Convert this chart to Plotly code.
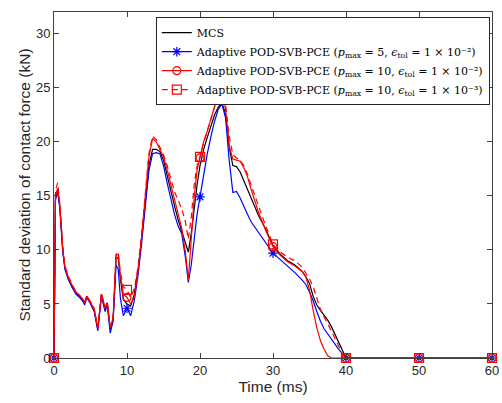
import plotly.graph_objects as go

# time grid (ms)
time_ms = [0, 0.2, 0.5, 0.8, 1.0, 1.2, 1.5, 2.0, 2.5, 3.0, 3.5, 4.0, 4.2, 4.5, 5.0,
           5.5, 6.0, 6.5, 7.0, 7.3, 7.7, 8.1, 8.5, 8.8, 9.1, 9.5, 10.0, 10.5, 11.0,
           11.5, 12.0, 12.5, 13.0, 13.5, 14.0, 14.5, 15.0, 15.5, 16.0, 16.5, 17.0,
           17.5, 18.0, 18.4, 18.8, 19.2, 19.6, 20.0, 20.5, 21.0, 21.5, 22.0, 22.5,
           23.0, 23.5, 24.0, 24.5, 25.0, 25.5, 26.0, 26.5, 27.0, 28.0, 29.0, 30.0,
           31.0, 32.0, 33.0, 34.0, 34.5, 35.0, 35.5, 36.0, 36.5, 37.0, 37.5, 38.0,
           38.5, 39.0, 39.5, 40.0, 50.0, 60.0]

mcs = [0, 14.8, 15.6, 14.0, 12.0, 10.0, 8.3, 7.3, 6.6, 6.0, 5.7, 5.3, 5.1, 5.7, 5.1,
       4.5, 2.7, 5.9, 4.5, 5.1, 2.7, 3.6, 9.2, 9.3, 7.3, 5.4, 5.0, 4.8, 5.9,
       8.1, 11.0, 14.5, 17.8, 19.3, 19.3, 19.1, 18.3, 16.9, 15.4, 14.1, 12.8,
       11.8, 10.6, 9.8, 11.5, 14.0, 16.0, 17.8, 19.3, 20.4, 21.5, 22.5, 23.2,
       23.6, 22.6, 19.5, 17.8, 17.7, 17.2, 16.4, 15.5, 14.7, 13.2, 11.9, 10.4,
       9.6, 9.0, 8.6, 8.0, 7.5, 6.9, 5.7, 4.9, 4.4, 4.0, 3.5, 2.9,
       2.2, 1.5, 0.7, 0, 0, 0]

pce_p5_e2 = [0, 14.6, 15.4, 13.8, 11.8, 9.8, 8.2, 7.2, 6.5, 5.9, 5.6, 5.2, 4.9, 5.6, 5.0,
             4.3, 2.5, 5.7, 4.3, 4.9, 2.3, 3.4, 8.6, 8.2, 5.5, 3.9, 4.6, 3.9, 5.3,
             7.6, 10.6, 14.0, 17.3, 18.9, 19.0, 18.9, 17.8, 16.2, 14.6, 13.3, 12.2,
             11.5, 9.3, 7.0, 8.6, 11.2, 13.3, 14.9, 17.0, 18.9, 20.5, 21.9, 23.0,
             23.5, 22.2, 18.3, 15.3, 15.4, 14.8, 14.0, 13.3, 12.6, 11.6, 10.6, 9.7,
             9.1, 8.5, 7.9, 7.2, 6.8, 6.1, 5.3, 4.3, 3.4, 2.7, 2.2, 1.7,
             1.2, 0.8, 0.4, 0, 0, 0]

pce_p10_e2 = [0, 14.9, 15.7, 14.1, 12.1, 10.1, 8.4, 7.4, 6.7, 6.1, 5.8, 5.4, 5.1, 5.7, 5.1,
              4.5, 2.7, 5.9, 4.6, 5.0, 2.8, 3.7, 9.5, 9.6, 7.5, 5.9, 5.6, 5.0, 5.6,
              8.0, 11.2, 15.0, 18.6, 20.3, 20.0, 19.3, 18.6, 17.4, 16.0, 14.8, 13.4,
              12.0, 9.8, 7.2, 11.0, 14.8, 17.4, 18.5, 20.0, 21.0, 22.2, 23.3, 24.4,
              25.0, 23.0, 19.6, 18.4, 18.3, 18.2, 17.6, 16.8, 15.6, 13.5, 11.8, 10.3,
              9.5, 8.9, 8.5, 8.0, 7.5, 6.3, 4.4, 2.8, 1.6, 0.8, 0.2, 0,
              0, 0, 0, 0, 0, 0]

pce_p10_e3 = [0, 15.5, 16.2, 14.3, 12.3, 10.3, 8.5, 7.5, 6.8, 6.1, 5.8, 5.4, 5.2, 5.8, 5.2,
              4.6, 2.8, 6.0, 4.7, 5.2, 2.9, 3.9, 9.6, 9.8, 7.9, 6.6, 6.3, 5.6, 6.4,
              8.4, 11.4, 15.2, 18.9, 20.5, 20.2, 19.5, 18.8, 17.8, 16.6, 15.4, 14.6,
              13.8, 12.6, 11.0, 13.0, 16.0, 17.8, 18.6, 19.9, 21.0, 22.3, 23.4, 24.3,
              24.8, 23.5, 20.5, 18.8, 18.5, 18.3, 17.8, 17.0, 16.0, 14.0, 12.2, 10.5,
              9.8, 9.3, 9.0, 8.4, 7.9, 7.3, 6.6, 5.5, 4.5, 3.8, 3.2, 2.5,
              1.8, 1.1, 0.4, 0, 0, 0]

marker_times = [0, 10, 20, 30, 40, 50, 60]

legend_names = [
    "MCS",
    "Adaptive POD-SVB-PCE (<i>p</i><sub>max</sub> = 5, <i>ϵ</i><sub>tol</sub> = 1 × 10⁻²)",
    "Adaptive POD-SVB-PCE (<i>p</i><sub>max</sub> = 10, <i>ϵ</i><sub>tol</sub> = 1 × 10⁻²)",
    "Adaptive POD-SVB-PCE (<i>p</i><sub>max</sub> = 10, <i>ϵ</i><sub>tol</sub> = 1 × 10⁻³)",
]

styles = [
    dict(color="#000000", dash="solid", symbol=None, size=0),
    dict(color="#0000ff", dash="solid", symbol="asterisk-open", size=8),
    dict(color="#ff0000", dash="solid", symbol="circle-open", size=8),
    dict(color="#ff0000", dash="6px,4px", symbol="square-open", size=9),
]

series = [mcs, pce_p5_e2, pce_p10_e2, pce_p10_e3]

fig = go.Figure()

for name, ys, st in zip(legend_names, series, styles):
    fig.add_trace(go.Scatter(x=time_ms, y=ys, mode="lines", showlegend=False,
                             line=dict(color=st["color"], width=1.2, dash=st["dash"])))
    if st["symbol"]:
        mk = dict(symbol=st["symbol"], size=st["size"], color=st["color"],
                  line=dict(color=st["color"], width=1.2))
        idx = [time_ms.index(t) for t in marker_times]
        fig.add_trace(go.Scatter(
            x=[time_ms[i] for i in idx], y=[ys[i] for i in idx], mode="markers",
            showlegend=False, cliponaxis=False, marker=mk))
        # legend-only entry with line + marker
        fig.add_trace(go.Scatter(
            x=[None], y=[None], mode="lines+markers", name=name,
            line=dict(color=st["color"], width=1.2, dash=st["dash"]), marker=mk))
    else:
        fig.add_trace(go.Scatter(x=[None], y=[None], mode="lines", name=name,
                                 line=dict(color=st["color"], width=1.2)))

axis_style = dict(
    showline=True, linecolor="#404040", linewidth=1, mirror="ticks",
    ticks="inside", ticklen=5, tickcolor="#404040", showgrid=False, zeroline=False,
    automargin=False,
    tickfont=dict(family="Liberation Sans, Arial", size=13, color="#262626"),
    title_font=dict(family="Liberation Sans, Arial", size=15.5, color="#262626"),
)

fig.update_xaxes(range=[0, 60], tick0=0, dtick=10, title_text="Time (ms)",
                 title_standoff=0, **axis_style)
fig.update_yaxes(range=[0, 32], tick0=0, dtick=5,
                 title_text="Standard deviation of contact force (kN)",
                 title_standoff=1, **axis_style)

fig.update_layout(
    width=502,
    height=403,
    margin=dict(l=54, r=10, t=12, b=45),
    plot_bgcolor="white",
    paper_bgcolor="white",
    legend=dict(
        x=0.995, y=0.985, xanchor="right", yanchor="top",
        bgcolor="white", bordercolor="#262626", borderwidth=1,
        font=dict(family="DejaVu Serif, Liberation Serif", size=11, color="#000000"),
        tracegroupgap=0, itemwidth=30,
    ),
)

# drop the default 8px page margin so the figure fills the window exactly
fig.write_html("out.html", config={"displayModeBar": False},
               post_script="document.body.style.margin = '0';")
